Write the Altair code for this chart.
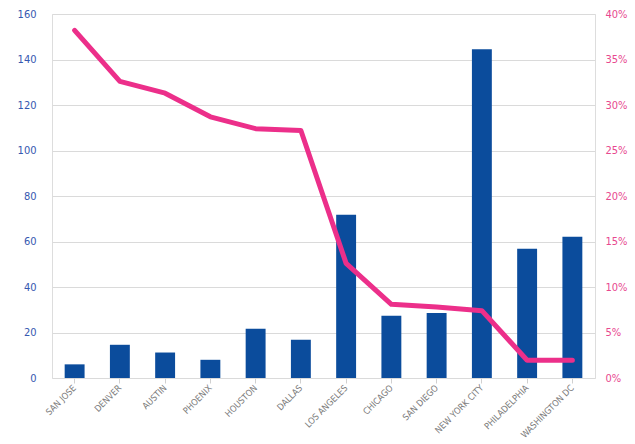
import altair as alt
import pandas as pd

# City categories, left-axis bar values, right-axis share values
cities = ["SAN JOSE", "DENVER", "AUSTIN", "PHOENIX", "HOUSTON", "DALLAS",
          "LOS ANGELES", "CHICAGO", "SAN DIEGO", "NEW YORK CITY",
          "PHILADELPHIA", "WASHINGTON DC"]
counts = [6, 14.6, 11.2, 8, 21.7, 16.8, 71.8, 27.4, 28.6, 144.5, 56.8, 62.1]
shares = [0.382, 0.326, 0.313, 0.287, 0.274, 0.272, 0.126, 0.081, 0.078,
          0.074, 0.0195, 0.0195]

df = pd.DataFrame({"city": cities, "count": counts, "share": shares})

FONT = "'DejaVu Sans Condensed', 'Liberation Sans', sans-serif"
BLUE = "#0B4C9C"
PINK = "#EC2F8A"

x = alt.X(
    "city:N", sort=cities, title=None,
    scale=alt.Scale(paddingInner=0.56, paddingOuter=0.28),
    axis=alt.Axis(labelAngle=-45, labelAlign="right", labelBaseline="middle",
                  labelFontSize=9, labelColor="#7a7a7a", labelFont=FONT,
                  labelPadding=3, labelLimit=200, domain=False, ticks=True,
                  tickSize=5, tickColor="#d0d0d0", grid=False),
)

bars = alt.Chart(df).mark_bar(color=BLUE).encode(
    x=x,
    y=alt.Y("count:Q", title=None,
            scale=alt.Scale(domain=[0, 160], nice=False),
            axis=alt.Axis(orient="left", values=list(range(0, 161, 20)),
                          grid=True, gridColor="#dadada", gridWidth=1,
                          domain=False, ticks=False, labelPadding=16,
                          labelFontSize=11, labelColor="#3658b0",
                          labelFont=FONT)),
)

line = alt.Chart(df).mark_line(color=PINK, strokeWidth=5, strokeCap="round",
                               strokeJoin="round").encode(
    x=x,
    y=alt.Y("share:Q", title=None,
            scale=alt.Scale(domain=[0, 0.4], nice=False),
            axis=alt.Axis(orient="right", format=".0%",
                          values=[0, 0.05, 0.1, 0.15, 0.2, 0.25, 0.3, 0.35, 0.4],
                          grid=False, domain=False, ticks=False,
                          labelPadding=10, labelFontSize=11,
                          labelColor="#e8488f", labelFont=FONT)),
)

chart = alt.layer(bars, line).resolve_scale(y="independent").properties(
    width=543, height=364,
    autosize=alt.AutoSizeParams(type="none"),
    padding={"left": 52, "top": 14, "right": 40, "bottom": 66},
).configure_view(stroke=None).configure(background="white")

chart.save("out.html", embed_options={"renderer": "svg", "actions": False})
